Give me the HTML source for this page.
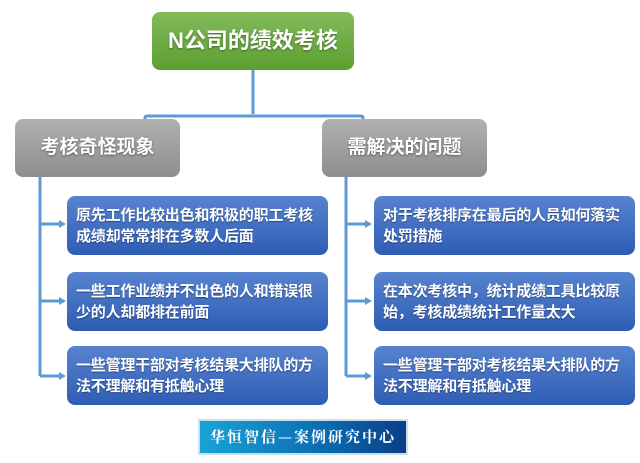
<!DOCTYPE html>
<html><head><meta charset="utf-8"><style>
body{margin:0;width:640px;height:463px;background:#fff;position:relative;overflow:hidden;font-family:"Liberation Sans","Noto Sans CJK SC",sans-serif;font-weight:bold;color:#fff}
.b{position:absolute;box-sizing:border-box;border-radius:8px}
.g{background:linear-gradient(#84bb5c,#5b9f2f);left:152px;top:12px;width:202px;height:58px;font-size:22px;text-align:center;line-height:58px;text-shadow:0 1px 2px rgba(0,0,0,.4)}
.gr{background:linear-gradient(#b0b0b0,#8e8e8e);width:165px;height:58px;top:119px;font-size:19px;text-align:center;line-height:58px;text-shadow:0 1px 2px rgba(0,0,0,.4)}
.bl{background:linear-gradient(#5783cf,#2f5db4);width:261px;height:59px;font-size:15px;line-height:21px;padding:9px 4px 0 9px;text-shadow:0 1px 1px rgba(0,0,0,.4);letter-spacing:-0.2px}
.f{position:absolute;left:198px;top:419px;width:210px;height:36px;background:linear-gradient(90deg,#1aa3d8,#0a6cb0 60%,#0a3f86);border:2px solid #cde;box-sizing:border-box;font-family:"Noto Serif CJK SC",serif;font-size:15px;text-align:center;line-height:32px;font-weight:bold;letter-spacing:2px}
</style></head><body>
<svg width="640" height="463" style="position:absolute;left:0;top:0">
<g stroke="#5b9bd5" stroke-width="3" fill="none">
<path d="M253 70V114M145 136V118Q145 116 147 116H361Q363 116 363 118V136"/>
<path d="M40 177V376M346 177V376"/>
<path d="M40 224H60M40 301H60M40 376H60M346 224H366M346 301H366M346 376H366"/>
</g>
<g fill="#5b9bd5">
<path d="M66 224l-7-4v8zM66 301l-7-4v8zM66 376l-7-4v8zM372 224l-7-4v8zM372 301l-7-4v8zM372 376l-7-4v8z"/>
</g>
</svg>
<div class="b g">N公司的绩效考核</div>
<div class="b gr" style="left:15px">考核奇怪现象</div>
<div class="b gr" style="left:322px">需解决的问题</div>
<div class="b bl" style="left:67px;top:196px">原先工作比较出色和积极的职工考核成绩却常常排在多数人后面</div>
<div class="b bl" style="left:67px;top:272px">一些工作业绩并不出色的人和错误很少的人却都排在前面</div>
<div class="b bl" style="left:67px;top:346px">一些管理干部对考核结果大排队的方法不理解和有抵触心理</div>
<div class="b bl" style="left:374px;top:196px">对于考核排序在最后的人员如何落实处罚措施</div>
<div class="b bl" style="left:374px;top:272px">在本次考核中，统计成绩工具比较原始，考核成绩统计工作量太大</div>
<div class="b bl" style="left:374px;top:346px">一些管理干部对考核结果大排队的方法不理解和有抵触心理</div>
<div class="f">华恒智信—案例研究中心</div>
</body></html>
